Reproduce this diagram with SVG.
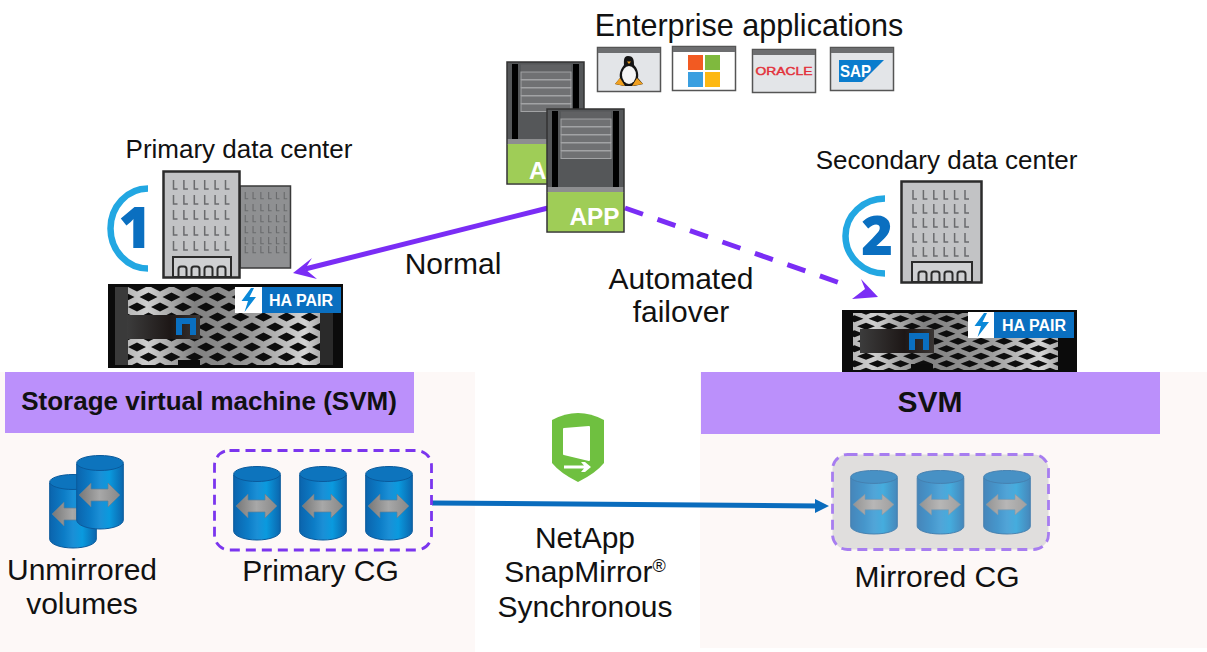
<svg xmlns="http://www.w3.org/2000/svg" xmlns:xlink="http://www.w3.org/1999/xlink" width="1207" height="652" viewBox="0 0 1207 652">
<style>
text{font-family:"Liberation Sans",Arial,sans-serif;fill:#111}
.lb{font-size:30px;text-anchor:middle}
.dc{font-size:26px;text-anchor:middle}
.svm{font-weight:700;text-anchor:middle}
.num{font-family:"Open Sans","Liberation Sans",sans-serif;font-weight:800;fill:#0a6fc0;text-anchor:middle}
.ring{fill:none;stroke:#22a7e2;stroke-width:6.500}
.bld{fill:#c2c3c5;stroke:#2b2b2b;stroke-width:2.500}
.bar{fill:#707173;stroke:#a2a3a5;stroke-width:1}
.win{fill:#e3e5e8;stroke:#555;stroke-width:1.500}
.wint{fill:#6d6e70}
.cg{stroke:#7b35ee;stroke-width:2.800;stroke-dasharray:10 6;fill:none}
.ha{font-weight:700;font-size:16px;fill:#fff}
.link{fill:none}
.p{stroke:#7a2df5;stroke-width:5}
.app{font-weight:700;fill:#fff}
</style>
<defs>
<linearGradient id="cy" x1="0" x2="1" y1="0" y2="0">
<stop offset="0" stop-color="#0b64ad"/><stop offset=".3" stop-color="#0c7cc6"/><stop offset=".5" stop-color="#1b8fd6"/><stop offset=".7" stop-color="#0a9ade"/><stop offset="1" stop-color="#0b66ae"/>
</linearGradient>
<linearGradient id="ar" x1="0" x2="1" y1="0" y2="0">
<stop offset="0" stop-color="#777"/><stop offset=".5" stop-color="#a8a8a8"/><stop offset="1" stop-color="#888"/>
</linearGradient>
<linearGradient id="me" x1="0" x2="1" y1="0" y2="0">
<stop offset="0" stop-color="#b8b8b8"/><stop offset=".1" stop-color="#cfcfcf"/><stop offset=".35" stop-color="#808080"/><stop offset=".65" stop-color="#989898"/><stop offset=".92" stop-color="#d4d4d4"/><stop offset="1" stop-color="#aaa"/>
</linearGradient>
<linearGradient id="hd" x1="0" x2="1" y1="0" y2="0">
<stop offset="0" stop-color="#3c3c3c"/><stop offset=".6" stop-color="#1d1716"/><stop offset="1" stop-color="#3a3533"/>
</linearGradient>
<pattern id="dia1" patternUnits="userSpaceOnUse" width="23" height="20" x="137" y="292">
<path d="M2.500 5 11.500 .5 20.500 5 11.500 9.500ZM-9 15-0 10.500 9 15-0 19.500ZM14 15 23 10.500 32 15 23 19.500Z" fill="#0d0d0d"/>
</pattern>
<pattern id="dia2" patternUnits="userSpaceOnUse" width="23" height="15" x="866" y="315">
<path d="M2.500 3.750 11.500 .3 20.500 3.750 11.500 7.200ZM-9 11.250-0 7.800 9 11.250-0 14.700ZM14 11.250 23 7.800 32 11.250 23 14.700Z" fill="#0d0d0d"/>
</pattern>
<g id="cyl">
<path d="M.7 9V65C.7 70 11 74 24 74S47.300 70 47.300 65V9Z" fill="url(#cy)" stroke="#0a5a9c" stroke-width="1"/>
<ellipse cx="24" cy="8" rx="23.300" ry="7.500" fill="#0d74bd" stroke="#0a5a9c" stroke-width="1"/>
<path d="M3 40 15 28V34H32V28L44 40 32 52V46H15V52Z" fill="url(#ar)" stroke="#5c7f99" stroke-width=".7"/>
</g>
<g id="ls" fill="none" stroke="#6a6b6d" stroke-width="1.500">
<path d="M1 0V9H5M11.400 0V9H15.400M21.800 0V9H25.800M32.200 0V9H36.200M42.600 0V9H46.600M53 0V9H57"/>
</g>
<path id="arches" fill="none" stroke="#2b2b2b" stroke-width="2" d="M0 11V2.500Q0 0 2.500 0H5.500Q8 0 8 2.500V11M13 11V2.500Q13 0 15.500 0H18.500Q21 0 21 2.500V11M26 11V2.500Q26 0 28.500 0H31.500Q34 0 34 2.500V11M39 11V2.500Q39 0 41.500 0H44.500Q47 0 47 2.500V11"/>
<path id="bolt" d="M10 0 .5 13H7L3.500 24 15 9H8.500L13 0Z" fill="#0a88d8"/>
<path id="nlogo" d="M0 0H20V17H14V6H6V17H0Z" fill="#0a6fc0"/>
</defs>

<rect id="panel-left" x="0" y="372" width="475" height="280" fill="#fdf8f7"/>
<rect id="panel-right" x="700" y="372" width="507" height="276" fill="#fdf8f7"/>

<g id="connectors">
<path class="link p" d="M548 208 305 269"/>
<path d="M293 273 312 258 305 269 317 279Z" fill="#7a2df5"/>
<path class="link p" d="M625 208 840 283" stroke-dasharray="19 15.400"/>
<path d="M878 297 861 279 865 289 852 299Z" fill="#7a2df5"/>
<path class="link" d="M432 503 820 506" stroke="#0a6cbd" stroke-width="5"/>
<path d="M829 506 815 499V513Z" fill="#0a6cbd"/>
</g>

<g id="node-apps">
<text x="749" y="36" font-size="30.500" text-anchor="middle">Enterprise applications</text>
<g id="app-linux">
<rect class="win" x="597.500" y="47.500" width="63" height="44"/><rect class="wint" x="598" y="48" width="62" height="5"/>
<path d="M628 56C623 56 624 62 624 65 621 69 619 73 620 78L615 84 624 86H634L643 84 638 78C639 73 637 68 634 65 634 61 634 56 628 56Z" fill="#141414"/>
<ellipse cx="629" cy="75" rx="7" ry="9" fill="#f5f5f5"/>
<path d="M615 84 620 78 625 86ZM643 84 637 78 632 86Z" fill="#f0a020"/>
<path d="M627 61.500 631 61.500 629 64Z" fill="#f0a020"/>
</g>
<g id="app-microsoft">
<rect x="672.500" y="46.500" width="63" height="44" fill="#fff" stroke="#555" stroke-width="1.500"/><rect class="wint" x="673" y="47" width="62" height="5"/>
<rect x="688" y="55" width="15" height="15" fill="#f25a22"/><rect x="705" y="55" width="15" height="15" fill="#7fb93e"/>
<rect x="688" y="72" width="15" height="15" fill="#3a9fe0"/><rect x="705" y="72" width="15" height="15" fill="#fdb813"/>
</g>
<g id="app-oracle">
<rect class="win" x="752.500" y="49.500" width="63" height="43"/><rect class="wint" x="753" y="50" width="62" height="5"/>
<text x="755.500" y="74.500" font-size="10" style="fill:#e2303a;stroke:#e2303a;stroke-width:.4" textLength="57" lengthAdjust="spacingAndGlyphs">ORACLE</text>
</g>
<g id="app-sap">
<rect class="win" x="830.500" y="47.500" width="63" height="43"/><rect class="wint" x="831" y="48" width="62" height="5"/>
<path d="M839 60H884L862 82H839Z" fill="#0a7ccd"/>
<text x="840" y="77" font-size="17" font-weight="700" style="fill:#fff" textLength="31" lengthAdjust="spacingAndGlyphs">SAP</text>
</g>
</g>

<g id="node-app-servers">
<g id="server-back">
<rect x="507" y="62" width="77" height="122" fill="#555759" stroke="#333" stroke-width="1.500"/>
<rect x="512" y="64" width="6" height="75" fill="#000"/><rect x="573" y="64" width="6" height="75" fill="#000"/>
<rect x="521" y="64.500" width="50" height="7" fill="#606163"/>
<rect class="bar" x="521" y="72" width="50" height="7.500"/><rect class="bar" x="521" y="80" width="50" height="7.500"/><rect class="bar" x="521" y="88" width="50" height="7.500"/><rect class="bar" x="521" y="96" width="50" height="7.500"/><rect class="bar" x="521" y="104" width="50" height="7.500"/>
<rect x="507.800" y="139" width="75.400" height="6" fill="#8d8e90"/>
<rect x="507.800" y="144" width="75.400" height="39.300" fill="#9fcd57"/>
<text class="app" x="529" y="179" font-size="24">A</text>
</g>
<g id="server-front">
<rect x="547" y="109" width="77" height="123" fill="#555759" stroke="#333" stroke-width="1.500"/>
<rect x="552" y="111" width="6" height="76" fill="#000"/><rect x="613" y="111" width="6" height="76" fill="#000"/>
<rect x="561" y="111.500" width="50" height="7" fill="#606163"/>
<rect class="bar" x="561" y="119" width="50" height="7.500"/><rect class="bar" x="561" y="127" width="50" height="7.500"/><rect class="bar" x="561" y="135" width="50" height="7.500"/><rect class="bar" x="561" y="143" width="50" height="7.500"/><rect class="bar" x="561" y="151" width="50" height="7.500"/>
<rect x="547.800" y="187" width="75.400" height="6" fill="#8d8e90"/>
<rect x="547.800" y="192" width="75.400" height="39.300" fill="#9fcd57"/>
<text class="app" x="569.500" y="225" font-size="23.500" textLength="50" lengthAdjust="spacingAndGlyphs">APP</text>
</g>
</g>

<text class="lb" x="453" y="274">Normal</text>
<text class="lb" x="681" y="289">Automated</text>
<text class="lb" x="681" y="322">failover</text>

<g id="node-primary-dc">
<text class="dc" x="239" y="158">Primary data center</text>
<path class="ring" d="M148 188.500A37.500 40 0 0 0 148 268.500"/>
<text class="num" x="135" y="248" font-size="56">1</text>
<g id="building-back">
<rect x="240" y="186" width="50.500" height="82" fill="#8f9092" stroke="#3a3a3a" stroke-width="1.500"/>
<use xlink:href="#ls" href="#ls" transform="translate(244.500 192) scale(.75 .75)"/>
<use xlink:href="#ls" href="#ls" transform="translate(244.500 204) scale(.75 .75)"/>
<use xlink:href="#ls" href="#ls" transform="translate(244.500 215) scale(.75 .75)"/>
<use xlink:href="#ls" href="#ls" transform="translate(244.500 226) scale(.75 .75)"/>
<use xlink:href="#ls" href="#ls" transform="translate(244.500 237) scale(.75 .75)"/>
<use xlink:href="#ls" href="#ls" transform="translate(244.500 246) scale(.75 .75)"/>
</g>
<g id="building-main">
<rect class="bld" x="163.500" y="171.500" width="76" height="106"/>
<use xlink:href="#ls" href="#ls" transform="translate(172.500 180)"/>
<use xlink:href="#ls" href="#ls" transform="translate(172.500 195)"/>
<use xlink:href="#ls" href="#ls" transform="translate(172.500 210)"/>
<use xlink:href="#ls" href="#ls" transform="translate(172.500 226)"/>
<use xlink:href="#ls" href="#ls" transform="translate(172.500 241)"/>
<rect x="173" y="257" width="58" height="20" fill="#cfd0d2" stroke="#2b2b2b" stroke-width="2"/>
<use xlink:href="#arches" href="#arches" transform="translate(178.500 266.500)"/>
</g>
</g>

<g id="node-primary-storage">
<rect x="108" y="284" width="235" height="84" fill="#0b0b0b"/>
<rect x="115" y="287" width="13" height="78" fill="#3a3a3a"/>
<rect x="320" y="287" width="13" height="78" fill="#2a2a2a"/>
<rect x="128" y="287" width="192" height="78" fill="url(#me)"/>
<rect x="128" y="287" width="192" height="78" fill="url(#dia1)"/>
<rect x="127" y="315" width="73" height="24" fill="url(#hd)"/>
<use xlink:href="#nlogo" href="#nlogo" x="176" y="318"/>
<rect x="178" y="360" width="22" height="8" fill="#0b0b0b"/>
<rect x="235" y="287" width="27" height="26" fill="#fff"/>
<rect x="262" y="287" width="79" height="26" fill="#0a6fc0"/>
<use xlink:href="#bolt" href="#bolt" x="241" y="288"/>
<text class="ha" x="269" y="306">HA PAIR</text>
</g>

<g id="node-secondary-dc">
<text class="dc" x="946.500" y="169">Secondary data center</text>
<path class="ring" d="M885 198.500A39.500 37.500 0 0 0 885 273.500"/>
<text class="num" x="877" y="255" font-size="54">2</text>
<rect class="bld" x="901.500" y="181.500" width="80" height="101"/>
<use xlink:href="#ls" href="#ls" transform="translate(912 190)"/>
<use xlink:href="#ls" href="#ls" transform="translate(912 204)"/>
<use xlink:href="#ls" href="#ls" transform="translate(912 218)"/>
<use xlink:href="#ls" href="#ls" transform="translate(912 233)"/>
<use xlink:href="#ls" href="#ls" transform="translate(912 247)"/>
<rect x="912" y="262" width="60" height="20" fill="#cfd0d2" stroke="#2b2b2b" stroke-width="2"/>
<use xlink:href="#arches" href="#arches" transform="translate(918.500 271.500)"/>
</g>

<g id="node-secondary-storage">
<rect x="842" y="310" width="235" height="62" fill="#0b0b0b"/>
<rect x="853" y="313" width="205" height="57" fill="url(#me)"/>
<rect x="853" y="313" width="205" height="57" fill="url(#dia2)"/>
<rect x="860" y="329" width="74" height="24" fill="url(#hd)"/>
<use xlink:href="#nlogo" href="#nlogo" x="909" y="333"/>
<rect x="911" y="364" width="22" height="8" fill="#0b0b0b"/>
<rect x="968" y="312" width="26" height="26" fill="#fff"/>
<rect x="994" y="312" width="80" height="26" fill="#0a6fc0"/>
<use xlink:href="#bolt" href="#bolt" x="974" y="313"/>
<text class="ha" x="1002" y="331">HA PAIR</text>
</g>

<g id="node-svm-primary">
<rect x="5" y="372" width="409" height="61" fill="#bb90fb"/>
<text class="svm" x="209" y="410" font-size="26">Storage virtual machine (SVM)</text>
</g>
<g id="node-svm-secondary">
<rect x="701" y="372" width="459" height="62" fill="#bb90fb"/>
<text class="svm" x="930" y="412" font-size="30">SVM</text>
</g>

<g id="node-unmirrored">
<use xlink:href="#cyl" href="#cyl" x="49" y="474"/>
<use xlink:href="#cyl" href="#cyl" x="76" y="455"/>
<text class="lb" x="82" y="580">Unmirrored</text>
<text class="lb" x="82" y="614">volumes</text>
</g>

<g id="node-primary-cg">
<rect class="cg" x="214.500" y="450.500" width="217" height="99.500" rx="15"/>
<use xlink:href="#cyl" href="#cyl" x="233" y="466"/>
<use xlink:href="#cyl" href="#cyl" x="299" y="466"/>
<use xlink:href="#cyl" href="#cyl" x="365" y="466"/>
<text class="lb" x="320.500" y="581">Primary CG</text>
</g>

<g id="node-snapmirror">
<path d="M552 420Q578 406 604 420V463Q596 473 578 482 560 473 552 463Z" fill="#6fc040"/>
<path d="M564 429 589 427V460L564 454Z" fill="#fff" stroke="#fff" stroke-linejoin="round" stroke-width="2"/>
<path d="M564 465.500H584L581 462H585L591 467 585 472H581L584 468.500H564Z" fill="#fff"/>
<text class="lb" x="585" y="548">NetApp</text>
<text class="lb" x="585" y="582">SnapMirror<tspan font-size="18" dy="-10">®</tspan></text>
<text class="lb" x="585" y="617">Synchronous</text>
</g>

<g id="node-mirrored-cg">
<rect x="832.500" y="454.500" width="216" height="95" rx="15" fill="#e0dedd"/>
<rect class="cg" style="stroke:#a77df0" x="832.500" y="454.500" width="216" height="95" rx="15"/>
<g opacity=".72">
<use xlink:href="#cyl" href="#cyl" transform="translate(850 470) scale(1 .865)"/>
<use xlink:href="#cyl" href="#cyl" transform="translate(916.500 470) scale(1 .865)"/>
<use xlink:href="#cyl" href="#cyl" transform="translate(983 470) scale(1 .865)"/>
</g>
<text class="lb" x="937" y="587">Mirrored CG</text>
</g>
</svg>
